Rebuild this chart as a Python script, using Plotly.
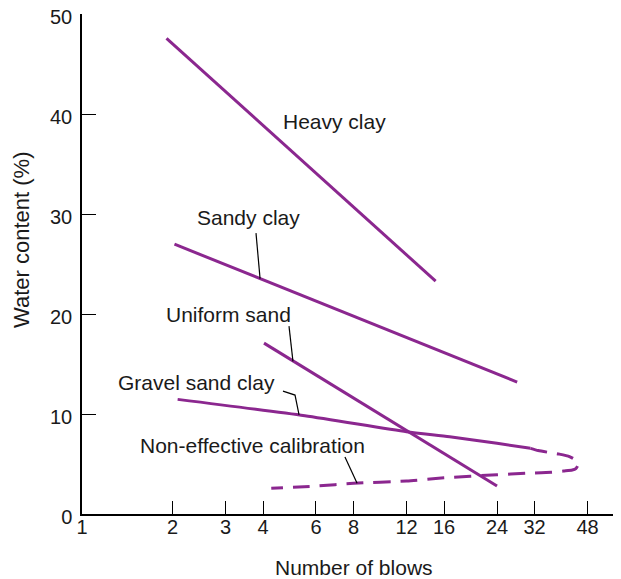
import math
import plotly.graph_objects as go

# ---- data ----
heavy_x = [1.91, 15.0]
heavy_y = [47.6, 23.3]

sandy_x = [2.03, 28.0]
sandy_y = [27.0, 13.2]

uniform_x = [4.03, 24.0]
uniform_y = [17.1, 2.8]

gravel_x = [2.08, 5.51, 12.0, 16.7, 24.0, 31.0]
gravel_y = [11.47, 9.83, 8.23, 7.73, 7.07, 6.57]

noneff_x = [31.0, 32.9, 35.9, 38.5, 41.8, 44.2, 44.6, 43.9, 42.7, 39.9, 36.4,
            29.8, 24.0, 16.0, 12.0, 8.0, 6.0, 4.26]
noneff_y = [6.57, 6.35, 6.15, 6.0, 5.75, 5.3, 4.9, 4.55, 4.4, 4.3, 4.17,
            4.07, 3.93, 3.62, 3.3, 3.07, 2.8, 2.57]

x_ticks = [1, 2, 3, 4, 6, 8, 12, 16, 24, 32, 48]
y_ticks = [0, 10, 20, 30, 40, 50]

labels = ["Heavy clay", "Sandy clay", "Uniform sand", "Gravel sand clay",
          "Non-effective calibration"]
label_x = [6.94, 3.59, 3.08, 2.41, 3.68]
label_y = [39.3, 29.7, 20.0, 13.2, 6.9]

# leader lines (label -> curve)
leader_sandy_x = [3.79, 3.91]
leader_sandy_y = [28.1, 23.55]
leader_uniform_x = [4.88, 5.03]
leader_uniform_y = [18.8, 15.27]
leader_gravel_x = [4.66, 5.11, 5.27]
leader_gravel_y = [12.3, 11.9, 9.91]
leader_noneff_x = [7.49, 8.22]
leader_noneff_y = [5.7, 3.08]

PURPLE = "#8b278f"
FONT = "Liberation Sans, Arial, Helvetica, sans-serif"

fig = go.Figure()

for xs, ys in [(heavy_x, heavy_y), (sandy_x, sandy_y), (uniform_x, uniform_y)]:
    fig.add_trace(go.Scatter(x=xs, y=ys, mode="lines",
                             line=dict(color=PURPLE, width=3),
                             showlegend=False, hoverinfo="skip"))

fig.add_trace(go.Scatter(x=gravel_x, y=gravel_y, mode="lines",
                         line=dict(color=PURPLE, width=3, shape="spline", smoothing=0.6),
                         showlegend=False, hoverinfo="skip"))

fig.add_trace(go.Scatter(x=noneff_x, y=noneff_y, mode="lines",
                         line=dict(color=PURPLE, width=3, dash="17px,10px",
                                   shape="spline", smoothing=0.6),
                         showlegend=False, hoverinfo="skip"))

for xs, ys in [(leader_sandy_x, leader_sandy_y), (leader_uniform_x, leader_uniform_y),
               (leader_gravel_x, leader_gravel_y), (leader_noneff_x, leader_noneff_y)]:
    fig.add_trace(go.Scatter(x=xs, y=ys, mode="lines",
                             line=dict(color="black", width=1.2),
                             showlegend=False, hoverinfo="skip"))

for t, lx, ly in zip(labels, label_x, label_y):
    fig.add_annotation(x=math.log10(lx), y=ly, xref="x", yref="y", text=t,
                       showarrow=False, xanchor="center", yanchor="middle",
                       font=dict(family=FONT, size=21, color="#1a1a1a"))

# axis titles
fig.add_annotation(x=0.5046, y=-0.106, xref="paper", yref="paper",
                   text="Number of blows", showarrow=False,
                   xanchor="center", yanchor="middle",
                   font=dict(family=FONT, size=21, color="#1a1a1a"))
fig.add_annotation(x=-0.1113, y=0.548, xref="paper", yref="paper",
                   text="Water content (%)", showarrow=False, textangle=-90,
                   xanchor="center", yanchor="middle",
                   font=dict(family=FONT, size=22, color="#1a1a1a"))

fig.update_xaxes(type="log", range=[0, 1.7925],
                 tickvals=x_ticks, ticktext=[str(v) for v in x_ticks],
                 ticks="inside", ticklen=13, tickwidth=1.2, tickcolor="black",
                 showline=True, linecolor="black", linewidth=1.5,
                 showgrid=False, zeroline=False, ticklabelstandoff=-6,
                 automargin=False,
                 tickfont=dict(family=FONT, size=20, color="#1a1a1a"))
fig.update_yaxes(range=[0, 50.03], tickvals=y_ticks,
                 ticks="inside", ticklen=14, tickwidth=1.2, tickcolor="black",
                 showline=True, linecolor="black", linewidth=1.5,
                 showgrid=False, zeroline=False, ticklabelstandoff=4,
                 ticklabelshift=3,
                 ticklabeloverflow="allow", automargin=False,
                 tickfont=dict(family=FONT, size=20, color="#1a1a1a"))

fig.update_layout(width=613, height=571,
                  margin=dict(l=74, r=0, t=6, b=65),
                  paper_bgcolor="white", plot_bgcolor="white")

fig.write_html("out.html")
